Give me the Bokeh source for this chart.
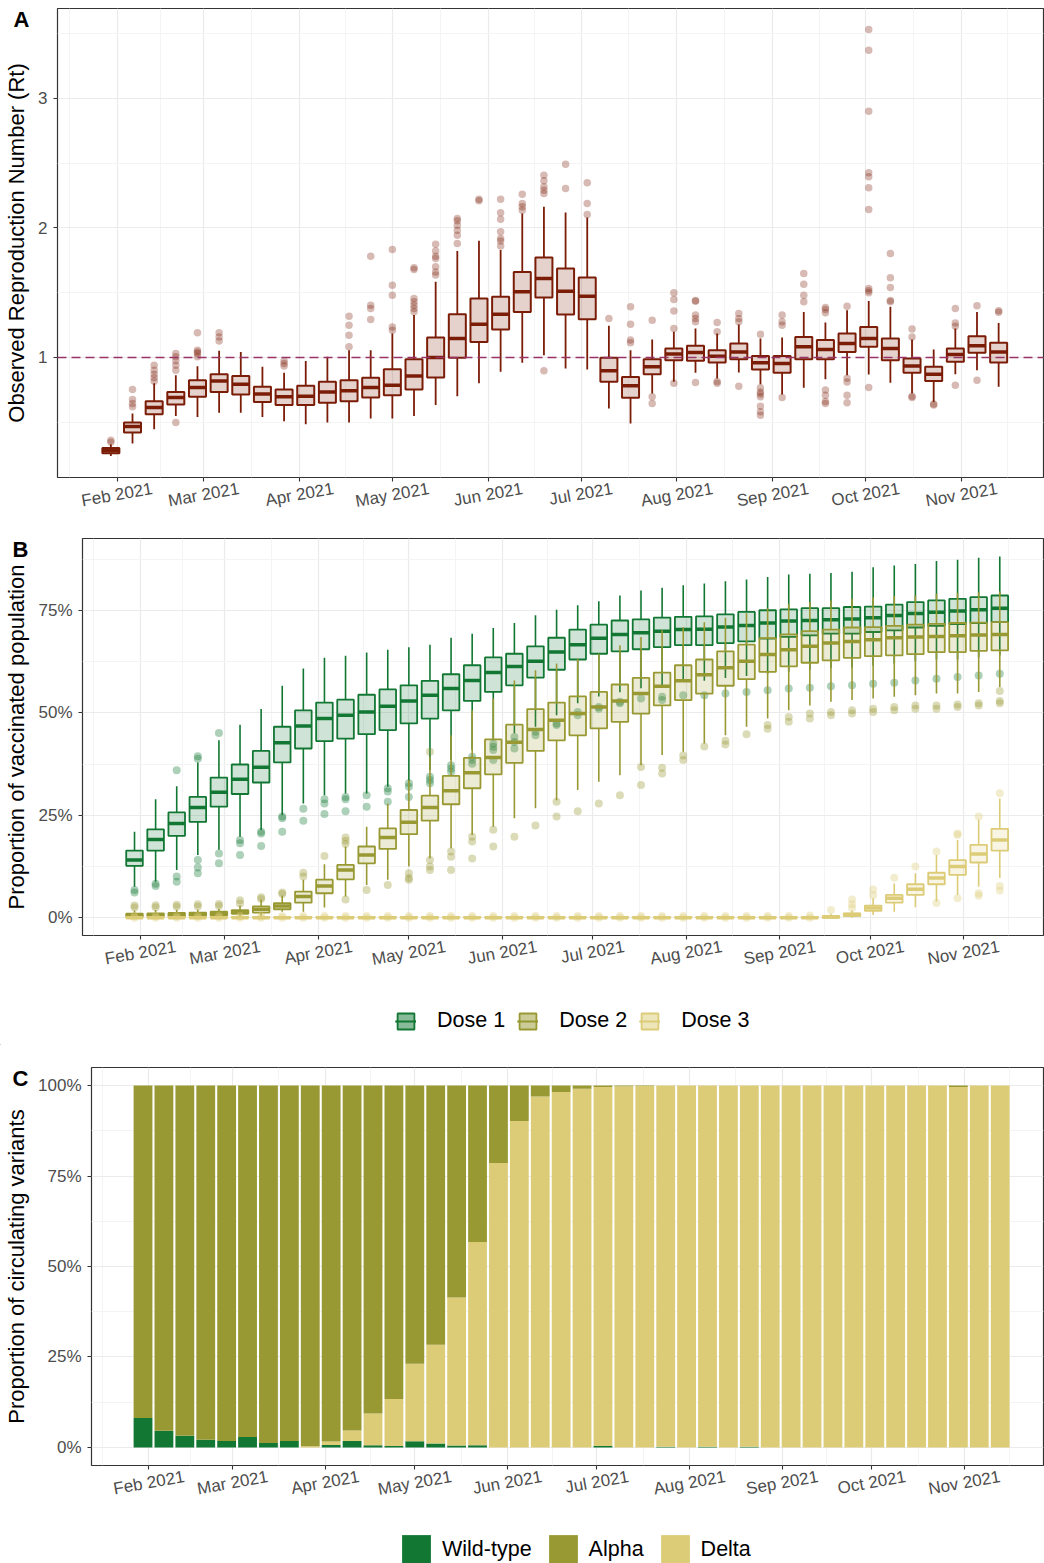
import math
import numpy as np
import pandas as pd
from bokeh.plotting import figure
from bokeh.models import (FixedTicker, CustomJSTickFormatter, PrintfTickFormatter, Span,
                          ColumnDataSource, Legend, LegendItem, Range1d, DatetimeAxis)
from bokeh.layouts import column
from bokeh.embed import file_html
from bokeh.resources import INLINE

# ---------------------------------------------------------------- data
week_start = "2021-01-30"
n_weeks = 42
month_ticks = ["2021-02-01", "2021-03-01", "2021-04-01", "2021-05-01", "2021-06-01",
               "2021-07-01", "2021-08-01", "2021-09-01", "2021-10-01", "2021-11-01"]
month_labels = ["Feb 2021", "Mar 2021", "Apr 2021", "May 2021", "Jun 2021",
                "Jul 2021", "Aug 2021", "Sep 2021", "Oct 2021", "Nov 2021"]

# Panel A: observed reproduction number (weekly boxplots)
rt_q1 = [0.26, 0.421, 0.562, 0.637, 0.696, 0.734, 0.714, 0.657, 0.632, 0.632, 0.65, 0.662, 0.691, 0.709,
         0.753, 0.846, 0.997, 1.12, 1.216, 1.352, 1.463, 1.332, 1.296, 0.812, 0.688, 0.871, 0.979, 0.974,
         0.961, 0.987, 0.907, 0.882, 0.987, 0.987, 1.043, 1.082, 0.979, 0.881, 0.819, 0.966, 1.036, 0.961]
rt_med = [0.28, 0.467, 0.614, 0.691, 0.768, 0.819, 0.794, 0.717, 0.696, 0.701, 0.734, 0.742, 0.768, 0.786,
          0.856, 1.0, 1.147, 1.257, 1.334, 1.507, 1.61, 1.512, 1.473, 0.897, 0.781, 0.928, 1.026, 1.039,
          1.01, 1.043, 0.959, 0.954, 1.082, 1.062, 1.108, 1.147, 1.069, 0.935, 0.871, 1.023, 1.09, 1.043]
rt_q3 = [0.30, 0.498, 0.662, 0.734, 0.825, 0.871, 0.856, 0.773, 0.753, 0.781, 0.812, 0.825, 0.843, 0.909,
         0.987, 1.154, 1.334, 1.456, 1.468, 1.661, 1.772, 1.687, 1.618, 0.997, 0.85, 0.987, 1.069, 1.09,
         1.056, 1.108, 1.012, 1.012, 1.159, 1.134, 1.185, 1.236, 1.147, 0.992, 0.928, 1.069, 1.164, 1.113]
rt_lo = [0.24, 0.336, 0.446, 0.547, 0.541, 0.573, 0.573, 0.541, 0.508, 0.485, 0.498, 0.498, 0.529, 0.529,
         0.547, 0.632, 0.701, 0.80, 0.889, 0.959, 1.018, 0.915, 0.907, 0.606, 0.49, 0.722, 0.812, 0.882,
         0.838, 0.884, 0.794, 0.714, 0.766, 0.832, 0.863, 0.869, 0.804, 0.722, 0.657, 0.871, 0.902, 0.773]
rt_hi = [0.33, 0.567, 0.80, 0.863, 0.933, 1.051, 1.043, 0.928, 0.882, 0.972, 1.005, 1.056, 1.056, 1.185,
         1.327, 1.584, 1.823, 1.901, 1.829, 2.112, 2.163, 2.12, 2.081, 1.244, 1.056, 1.139, 1.198, 1.224,
         1.185, 1.254, 1.147, 1.154, 1.352, 1.27, 1.365, 1.437, 1.391, 1.139, 1.062, 1.224, 1.352, 1.267]
rt_out = [[0.345, 0.36], [0.619, 0.645, 0.676, 0.753], [0.817, 0.843, 0.871, 0.902, 0.94],
          [0.498, 0.902, 0.94, 0.974, 1.005, 1.031], [1.005, 1.031, 1.043, 1.056, 1.19],
          [1.128, 1.159, 1.19], [], [], [0.935, 0.954, 0.974], [], [],
          [1.082, 1.172, 1.249, 1.319], [1.293, 1.378, 1.404, 1.782], [1.211, 1.236, 1.481, 1.558, 1.834],
          [1.353, 1.378, 1.404, 1.43, 1.456, 1.68, 1.692], [1.636, 1.661, 1.70, 1.764, 1.782, 1.823, 1.875],
          [1.88, 1.944, 1.983, 2.022, 2.055, 2.073], [2.21, 2.222],
          [1.86, 1.90, 1.919, 1.97, 2.068, 2.117, 2.222], [2.137, 2.163, 2.189, 2.261],
          [0.897, 2.267, 2.292, 2.318, 2.364, 2.408], [2.305, 2.493], [2.104, 2.189, 2.349], [1.301],
          [1.113, 1.134, 1.257, 1.391], [0.645, 0.696, 1.288], [0.80, 1.224, 1.358, 1.448, 1.499],
          [0.807, 1.275, 1.301, 1.327, 1.435, 1.44], [0.80, 0.815, 1.198, 1.27], [0.778, 1.275, 1.301, 1.34],
          [0.554, 0.58, 0.624, 0.696, 0.717, 0.734, 0.766, 1.18], [0.69, 1.249, 1.275, 1.327],
          [1.43, 1.481, 1.566, 1.649], [0.645, 0.66, 0.709, 0.748, 1.345, 1.37, 1.386],
          [0.65, 0.709, 0.81, 0.84, 1.396],
          [0.768, 1.499, 1.515, 1.533, 2.143, 2.31, 2.395, 2.426, 2.902, 3.373, 3.533],
          [1.43, 1.44, 1.54, 1.615, 1.803], [0.69, 0.70, 1.159, 1.219], [0.632, 0.64],
          [0.786, 1.242, 1.267, 1.378], [0.825, 1.399], [1.35, 1.36]]

# Panel B: proportion vaccinated (%), three doses
d1_q1 = [12.7, 16.4, 20.0, 23.4, 27.1, 30.2, 33.0, 37.9, 41.3, 43.1, 43.7, 44.8, 45.8, 47.4, 48.6, 50.6, 52.9,
         55.1, 56.7, 58.6, 60.5, 63.0, 64.4, 65.0, 65.5, 66.0, 66.5, 66.5, 67.0, 67.4, 68.1, 68.5, 68.9, 69.3,
         69.3, 69.7, 70.1, 70.8, 71.2, 71.6, 71.9, 72.1]
d1_med = [14.1, 19.1, 23.0, 26.9, 30.6, 33.8, 36.7, 42.7, 46.8, 48.6, 49.4, 50.2, 51.6, 52.9, 54.3, 55.9, 57.9,
          59.8, 61.3, 62.6, 64.8, 66.6, 68.2, 69.1, 69.5, 69.9, 70.3, 70.4, 70.9, 71.3, 71.9, 72.4, 72.5, 72.7,
          72.9, 73.2, 73.7, 74.2, 74.5, 74.8, 75.1, 75.5]
d1_q3 = [16.4, 21.6, 25.7, 29.5, 34.2, 37.4, 40.7, 46.6, 50.6, 52.5, 53.2, 54.4, 55.7, 56.7, 57.8, 59.4, 61.6,
         63.5, 64.4, 66.2, 68.3, 70.3, 71.5, 72.5, 72.8, 73.2, 73.4, 73.5, 74.0, 74.6, 75.0, 75.2, 75.5, 75.5,
         75.8, 75.9, 76.4, 77.0, 77.4, 77.8, 78.2, 78.6]
d1_lo = [7.6, 8.8, 11.7, 15.3, 16.6, 19.8, 21.4, 25.1, 27.9, 29.9, 30.3, 30.3, 32.0, 33.2, 36.0, 38.5, 41.0,
         43.3, 45.0, 46.6, 49.4, 52.3, 54.0, 55.0, 56.0, 56.7, 57.5, 57.8, 58.5, 59.0, 59.5, 60.0, 60.5, 61.0,
         61.0, 61.5, 62.0, 62.5, 63.0, 63.0, 63.5, 64.0]
d1_hi = [21.0, 28.9, 32.1, 37.9, 43.3, 47.1, 50.9, 56.6, 60.8, 63.4, 63.9, 64.7, 65.4, 66.0, 66.6, 68.3, 69.3,
         70.7, 71.9, 73.8, 75.1, 76.2, 77.2, 78.6, 79.8, 80.5, 81.1, 81.5, 82.1, 82.5, 83.1, 83.7, 83.9, 84.1,
         84.4, 85.5, 85.9, 86.3, 87.0, 87.3, 87.8, 88.1]
d1_out = [[6.2, 6.8], [7.8, 8.3], [8.8, 10.1, 36.0], [10.9, 12.3, 14.1, 38.8, 39.4], [13.3, 15.7, 45.1],
          [15.3, 18.2, 19.0], [17.5, 20.6, 21.0], [21.0, 24.3, 24.7], [23.7, 26.6], [25.3, 27.9, 28.9],
          [26.0, 28.9, 29.5], [27.1, 29.9], [28.3, 30.8, 31.6], [29.5, 32.0, 32.8], [32.8, 33.6, 34.4],
          [35.6, 36.4, 37.2], [37.6, 38.5, 39.3], [38.5, 40.9, 41.7, 42.5], [41.3, 42.9, 44.1], [44.5, 45.4],
          [47.0, 47.4], [49.4, 50.2], [51.0, 51.4], [52.3, 52.7], [53.5], [53.1, 53.9], [54.3], [54.3],
          [54.7], [55.1], [55.5], [55.9], [56.1], [56.5], [56.7], [57.1], [57.3], [57.9], [58.3], [58.7],
          [59.1], [59.5]]

d2_q1 = [0.3, 0.4, 0.4, 0.5, 0.6, 1.0, 1.3, 2.1, 3.7, 6.0, 9.4, 13.3, 16.8, 20.4, 23.7, 27.7, 31.6, 35.0, 37.8,
         40.7, 43.3, 44.5, 46.2, 47.8, 49.8, 51.8, 53.1, 54.7, 56.6, 58.2, 60.0, 61.3, 62.2, 62.8, 63.4, 63.8,
         64.0, 64.3, 64.8, 64.8, 65.1, 65.2]
d2_med = [0.6, 0.7, 0.8, 0.9, 1.0, 1.4, 2.1, 2.9, 5.2, 7.8, 11.7, 15.3, 19.6, 23.3, 26.9, 31.0, 35.4, 39.1, 42.8,
          45.9, 48.2, 49.8, 51.4, 52.9, 54.7, 56.5, 57.8, 59.3, 61.0, 62.6, 64.2, 65.4, 66.2, 67.0, 67.4, 67.8,
          68.3, 68.5, 68.6, 68.8, 69.0, 69.1]
d2_q3 = [1.0, 1.1, 1.2, 1.3, 1.5, 1.9, 2.8, 3.6, 6.4, 9.3, 12.9, 17.4, 21.8, 26.3, 29.8, 34.6, 39.0, 43.5, 47.1,
         50.9, 52.5, 54.0, 55.1, 56.9, 58.5, 59.8, 61.6, 63.0, 65.0, 66.6, 68.2, 69.1, 69.9, 70.3, 70.8, 70.9,
         71.2, 71.5, 71.7, 71.9, 72.0, 72.1]
d2_lo = [0.0, 0.0, 0.0, 0.0, 0.1, 0.2, 0.3, 1.5, 1.5, 2.5, 5.2, 8.0, 9.3, 12.5, 14.5, 17.0, 20.2, 22.2, 24.3,
         26.7, 28.7, 31.2, 33.2, 34.8, 37.2, 39.7, 40.5, 42.5, 44.5, 46.6, 48.6, 50.6, 51.8, 52.7, 53.1, 53.5,
         53.9, 54.3, 54.7, 54.7, 55.1, 56.3]
d2_hi = [1.8, 1.9, 2.0, 2.0, 2.2, 3.0, 4.4, 5.4, 9.3, 13.1, 17.4, 22.2, 27.9, 33.6, 39.3, 44.5, 50.6, 53.5, 57.9,
         60.4, 62.0, 63.2, 64.4, 66.5, 68.5, 70.1, 70.9, 72.1, 73.2, 74.3, 75.5, 76.6, 77.0, 77.4, 77.8, 78.2,
         78.5, 78.6, 79.0, 79.3, 79.4, 79.6]
d2_out = [[2.5, 3.0], [2.6, 3.1], [2.7, 3.2], [2.8, 3.3], [2.9, 3.4], [3.5, 4.3], [4.6, 5.0], [5.8, 6.2],
          [10.1, 11.0], [15.1], [4.5, 18.0, 18.8, 19.6], [6.8], [8.0], [9.3, 9.7, 10.9],
          [11.7, 12.5, 14.1, 40.5], [11.7, 14.9, 16.2], [14.5, 18.6, 19.8], [17.4, 21.5], [19.8], [22.5],
          [24.7, 28.3], [26.0], [27.9], [29.9], [32.4, 36.8], [35.2, 36.6], [38.5, 39.6], [41.8],
          [42.3, 43.2], [44.8], [46.1, 47.0], [47.8, 49.0], [48.6, 49.8], [49.4, 50.2], [49.8, 50.6],
          [50.2, 51.0], [50.6, 51.4], [51.0, 51.8], [51.0, 51.8], [51.4, 52.0], [51.8, 52.3], [52.3, 52.9, 55.3]]

d3_q1 = [0.0, 0.0, 0.0, 0.0, 0.0, 0.0, 0.0, 0.0, 0.0, 0.0, 0.0, 0.0, 0.0, 0.0, 0.0, 0.0, 0.0, 0.0, 0.0, 0.0,
         0.0, 0.0, 0.0, 0.0, 0.0, 0.0, 0.0, 0.0, 0.0, 0.0, 0.0, 0.0, 0.0, 0.0, 0.4, 1.7, 3.7, 5.6, 8.2, 10.5,
         13.5, 16.4]
d3_med = [0.05, 0.05, 0.05, 0.05, 0.05, 0.05, 0.05, 0.05, 0.05, 0.05, 0.05, 0.05, 0.05, 0.05, 0.05, 0.05, 0.05,
          0.05, 0.05, 0.05, 0.05, 0.05, 0.05, 0.05, 0.05, 0.05, 0.05, 0.05, 0.05, 0.05, 0.05, 0.05, 0.05, 0.2,
          0.8, 2.4, 4.8, 7.0, 9.7, 12.5, 15.6, 19.0]
d3_q3 = [0.25, 0.25, 0.25, 0.25, 0.25, 0.25, 0.25, 0.25, 0.25, 0.25, 0.25, 0.25, 0.25, 0.25, 0.25, 0.25, 0.25,
         0.25, 0.25, 0.25, 0.25, 0.25, 0.25, 0.25, 0.25, 0.25, 0.25, 0.25, 0.25, 0.25, 0.25, 0.25, 0.25, 0.5,
         1.1, 3.0, 5.6, 8.2, 11.0, 14.1, 17.8, 21.7]
d3_lo = [0.0, 0.0, 0.0, 0.0, 0.0, 0.0, 0.0, 0.0, 0.0, 0.0, 0.0, 0.0, 0.0, 0.0, 0.0, 0.0, 0.0, 0.0, 0.0, 0.0,
         0.0, 0.0, 0.0, 0.0, 0.0, 0.0, 0.0, 0.0, 0.0, 0.0, 0.0, 0.0, 0.0, 0.0, 0.0, 0.7, 1.5, 2.6, 4.0, 5.6,
         7.6, 9.7]
d3_hi = [0.3, 0.3, 0.3, 0.3, 0.3, 0.3, 0.3, 0.3, 0.3, 0.3, 0.3, 0.3, 0.3, 0.3, 0.3, 0.3, 0.3, 0.3, 0.3, 0.3,
         0.3, 0.3, 0.3, 0.3, 0.3, 0.3, 0.3, 0.3, 0.3, 0.3, 0.3, 0.3, 0.3, 1.0, 1.8, 4.8, 8.4, 10.9, 15.3, 19.0,
         23.9, 29.1]
d3_out = [[0.0, 0.45], [0.0, 0.45], [0.0, 0.45], [0.0, 0.45], [0.0, 0.45], [0.0, 0.45], [0.0, 0.45],
          [0.0, 0.45], [0.0, 0.45], [0.0, 0.45], [0.0, 0.45], [0.0, 0.45], [0.0, 0.45], [0.0, 0.45],
          [0.0, 0.45], [0.0, 0.45], [0.0, 0.45], [0.0, 0.45], [0.0, 0.45], [0.0, 0.45], [0.0, 0.45],
          [0.0, 0.45], [0.0, 0.45], [0.0, 0.45], [0.0, 0.45], [0.0, 0.45], [0.0, 0.45], [0.0, 0.45],
          [0.0, 0.45], [0.0, 0.45], [0.0, 0.45], [0.0, 0.45], [0.0, 0.6], [1.9], [2.4, 3.3, 4.5], [5.5, 6.9],
          [9.8], [12.5], [3.6, 16.2], [4.8, 20.2, 20.6], [5.4, 6.0, 24.7], [6.7, 7.8, 30.4]]

dose_names = ["Dose 1", "Dose 2", "Dose 3"]

# Panel C: proportion of circulating variants (%)
wild_type = [8.1, 4.6, 3.2, 2.1, 1.8, 2.9, 1.2, 1.8, 0.0, 0.7, 1.8, 0.6, 0.4, 1.7, 1.1, 0.5, 0.6, 0.0, 0.0, 0.0,
             0.0, 0.0, 0.4, 0.0, 0.0, 0.2, 0.0, 0.2, 0.0, 0.2, 0.0, 0.0, 0.0, 0.0, 0.0, 0.0, 0.0, 0.0, 0.0, 0.0,
             0.0, 0.0]
delta = [0.0, 0.0, 0.0, 0.0, 0.0, 0.0, 0.0, 0.0, 0.3, 0.9, 2.9, 8.8, 13.0, 21.4, 27.3, 40.9, 56.2, 78.6, 90.2,
         97.0, 98.2, 99.1, 99.2, 99.8, 99.9, 99.8, 100.0, 99.8, 100.0, 99.8, 100.0, 100.0, 100.0, 100.0, 100.0,
         100.0, 100.0, 100.0, 100.0, 99.6, 100.0, 100.0]
alpha = [91.9, 95.4, 96.8, 97.9, 98.2, 97.1, 98.8, 98.2, 99.7, 98.4, 95.3, 90.6, 86.6, 76.9, 71.6, 58.6, 43.2,
         21.4, 9.8, 3.0, 1.8, 0.9, 0.4, 0.2, 0.1, 0.0, 0.0, 0.0, 0.0, 0.0, 0.0, 0.0, 0.0, 0.0, 0.0, 0.0, 0.0,
         0.0, 0.0, 0.4, 0.0, 0.0]
variant_names = ["Wild-type", "Alpha", "Delta"]

# ---------------------------------------------------------------- styling
FONT = "Liberation Sans"
RT_COL = "#7B1C07"
SPAN_COL = "#993366"
DOSE_COLS = ["#117733", "#999933", "#DDCC77"]
DOSE_KEY_FILLS = ["#88BB99", "#CCCC99", "#EEE6BB"]
VAR_COLS = {"Wild-type": "#117733", "Alpha": "#999933", "Delta": "#DDCC77"}
GRID = "#EBEBEB"
GRID_MINOR = "#F4F4F4"
TICK_TXT = "#4D4D4D"
W = 1044
TICK_FS = 17
LABEL_ANGLE = math.radians(10)
DAY = 86400000.0
EPOCH = pd.Timestamp("1970-01-01")
# approximate advance widths (em) of Liberation Sans, used to centre rotated month labels
CHAR_EM = {"F": 0.611, "e": 0.556, "b": 0.556, " ": 0.278, "M": 0.833, "a": 0.556, "r": 0.333,
           "A": 0.667, "p": 0.556, "y": 0.5, "J": 0.5, "u": 0.556, "n": 0.556, "l": 0.222, "g": 0.556,
           "S": 0.667, "O": 0.778, "c": 0.5, "t": 0.278, "N": 0.722, "o": 0.556, "v": 0.5}


def to_ms(idx):
    return ((pd.DatetimeIndex(idx) - EPOCH) / pd.Timedelta(milliseconds=1)).to_numpy(dtype=float)


weeks = to_ms(pd.date_range(week_start, periods=n_weeks, freq="7D"))
major_ms = to_ms(month_ticks)
all_months = to_ms(pd.date_range("2021-01-01", "2021-12-01", freq="MS"))
minor_ms = (all_months[:-1] + all_months[1:]) / 2.0
X_START = to_ms(["2021-01-12 18:00"])[0]
X_END = to_ms(["2021-11-27 12:00"])[0]


def text_px(s, fs):
    return sum(CHAR_EM.get(ch, 0.556) for ch in s) * fs


def make_panel(height, top, bottom, left, yr, yticks, yminor, ylab, letter, letter_off, yfmt=None):
    p = figure(width=W, height=height, x_axis_type="datetime",
               x_range=Range1d(X_START, X_END), y_range=Range1d(*yr),
               output_backend="svg", toolbar_location=None, frame_align=False,
               min_border_left=left, min_border_right=1, min_border_top=top, min_border_bottom=bottom)
    p.background_fill_color = "white"
    p.border_fill_color = "white"
    p.outline_line_color = "#333333"
    p.outline_line_width = 1.2
    # panel letter as the plot title, pulled beside the frame's top-left corner
    p.title.text = "\n" + letter
    p.title.align = "left"
    p.title.offset = letter_off
    p.title.standoff = -46
    p.title.vertical_align = "bottom"
    p.title.text_font = FONT
    p.title.text_font_size = "22px"
    p.title.text_font_style = "bold"
    p.title.text_color = "black"
    p.title.text_line_height = 1.0
    # x axis: tick marks only
    xa = p.xaxis[0]
    xa.ticker = FixedTicker(ticks=list(major_ms), minor_ticks=list(minor_ms))
    xa.formatter = CustomJSTickFormatter(code="return ''")
    xa.axis_line_color = None
    xa.major_tick_line_color = "#333333"
    xa.major_tick_line_width = 1.1
    xa.major_tick_out = 4
    xa.major_tick_in = 0
    xa.minor_tick_line_color = None
    xa.major_label_standoff = 0
    # second x axis carrying the rotated month labels (ticks shifted so text is centred)
    frame_w = W - left - 1
    ms_per_px = (X_END - X_START) / frame_w
    shifted = [float(m + text_px(s, TICK_FS) / 2.0 * math.cos(LABEL_ANGLE) * ms_per_px)
               for m, s in zip(major_ms, month_labels)]
    lab_ax = DatetimeAxis(ticker=FixedTicker(ticks=shifted, minor_ticks=[]),
                          formatter=CustomJSTickFormatter(
                              args=dict(labels=month_labels, pos=shifted),
                              code="let b = 0; for (let j = 0; j < pos.length; j++) {"
                                   " if (Math.abs(pos[j] - tick) < Math.abs(pos[b] - tick)) b = j; }"
                                   " return labels[b];"))
    lab_ax.axis_line_color = None
    lab_ax.major_tick_line_color = None
    lab_ax.minor_tick_line_color = None
    lab_ax.major_tick_out = 0
    lab_ax.major_tick_in = 0
    lab_ax.minor_tick_out = 0
    lab_ax.major_label_standoff = 7
    lab_ax.major_label_orientation = LABEL_ANGLE
    lab_ax.major_label_text_font = FONT
    lab_ax.major_label_text_font_size = f"{TICK_FS}px"
    lab_ax.major_label_text_color = TICK_TXT
    p.add_layout(lab_ax, "below")
    # y axis
    ya = p.yaxis[0]
    ya.ticker = FixedTicker(ticks=yticks, minor_ticks=yminor)
    if yfmt is not None:
        ya.formatter = yfmt
    ya.axis_line_color = None
    ya.major_tick_line_color = "#333333"
    ya.major_tick_line_width = 1.1
    ya.major_tick_out = 4
    ya.major_tick_in = 0
    ya.minor_tick_line_color = None
    ya.major_label_standoff = 6
    ya.major_label_text_font = FONT
    ya.major_label_text_font_size = f"{TICK_FS}px"
    ya.major_label_text_color = TICK_TXT
    ya.axis_label = ylab
    ya.axis_label_text_font = FONT
    ya.axis_label_text_font_size = "22px"
    ya.axis_label_text_font_style = "normal"
    ya.axis_label_text_color = "black"
    ya.axis_label_standoff = 6
    for g in (p.xgrid[0], p.ygrid[0]):
        g.grid_line_color = GRID
        g.grid_line_width = 1.2
        g.minor_grid_line_color = GRID_MINOR
        g.minor_grid_line_width = 1
    return p


def draw_boxes(p, q1, med, q3, lo, hi, outs, color, fill_alpha, lw, mw, ww, out_alpha, out_size):
    half = 2.75 * DAY
    src = ColumnDataSource(dict(x=weeks, q1=q1, med=med, q3=q3, lo=lo, hi=hi,
                                x0=weeks - half, x1=weeks + half))
    ox, oy = [], []
    for w, o in zip(weeks, outs):
        ox += [w] * len(o)
        oy += list(o)
    p.scatter(x=ox, y=oy, size=out_size, fill_color=color, fill_alpha=out_alpha, line_color=None)
    p.segment(x0="x", y0="q3", x1="x", y1="hi", source=src, line_color=color, line_width=ww)
    p.segment(x0="x", y0="lo", x1="x", y1="q1", source=src, line_color=color, line_width=ww)
    p.vbar(x="x", width=2 * half, bottom="q1", top="q3", source=src, fill_color=color,
           fill_alpha=fill_alpha, line_color=color, line_width=lw)
    p.segment(x0="x0", y0="med", x1="x1", y1="med", source=src, line_color=color, line_width=mw)


def legend_strip(height):
    p = figure(width=W, height=height, x_range=Range1d(0, 1), y_range=Range1d(0, 1),
               x_axis_location=None, y_axis_location=None, output_backend="svg", toolbar_location=None,
               frame_align=False, min_border_left=0, min_border_right=0, min_border_top=0, min_border_bottom=0)
    p.outline_line_color = None
    p.background_fill_color = "white"
    p.border_fill_color = "white"
    p.xgrid.visible = False
    p.ygrid.visible = False
    return p


# ---------------------------------------------------------------- panel A
pA = make_panel(526, 8, 49, 57, (0.073, 3.695), [1, 2, 3], [0.5, 1.5, 2.5, 3.5],
                "Observed Reproduction Number (Rt)", "A", -44)
draw_boxes(pA, rt_q1, rt_med, rt_q3, rt_lo, rt_hi, rt_out, RT_COL, 0.2, 2, 3.5, 1.8, 0.3, 7.5)
pA.add_layout(Span(location=1, dimension="width", line_color=SPAN_COL, line_width=1.6, line_dash="9 5"))

# ---------------------------------------------------------------- panel B
pB = make_panel(458, 12, 49, 82, (-4.3, 92.5), [0, 25, 50, 75], [12.5, 37.5, 62.5, 87.5],
                "Proportion of vaccinated population", "B", -70,
                yfmt=PrintfTickFormatter(format="%d%%"))
dose_data = [(d1_q1, d1_med, d1_q3, d1_lo, d1_hi, d1_out),
             (d2_q1, d2_med, d2_q3, d2_lo, d2_hi, d2_out),
             (d3_q1, d3_med, d3_q3, d3_lo, d3_hi, d3_out)]
for (q1, md, q3, lo, hi, out), col in zip(dose_data, DOSE_COLS):
    draw_boxes(pB, q1, md, q3, lo, hi, out, col, 0.2, 1.8, 3.5, 1.6, 0.35, 8)

legB = legend_strip(61)
itemsB = []
for name, col, kf in zip(dose_names, DOSE_COLS, DOSE_KEY_FILLS):
    rw = legB.vspan(x=[-5], line_color=col, line_width=1.6)
    rb = legB.vbar(x=[-5], width=0.1, bottom=[-6], top=[-5], fill_color=kf, line_color=col, line_width=1.8)
    rm = legB.segment(x0=[-5], y0=[-5], x1=[-4], y1=[-5], line_color=col, line_width=2)
    itemsB.append(LegendItem(label=name, renderers=[rw, rb, rm]))
legendB = Legend(items=itemsB, orientation="horizontal", location=(395, 12), border_line_color=None,
                 background_fill_alpha=0, padding=0, margin=0, spacing=12, label_standoff=21,
                 glyph_width=21, glyph_height=20, label_text_font=FONT, label_text_font_size="21.5px",
                 label_text_color="black")
legB.add_layout(legendB, "center")

# ---------------------------------------------------------------- panel C
pC = make_panel(468, 22, 48, 91, (-5.0, 105.0), [0, 25, 50, 75, 100], [12.5, 37.5, 62.5, 87.5],
                "Proportion of circulating variants", "C", -79,
                yfmt=PrintfTickFormatter(format="%d%%"))
srcC = ColumnDataSource(dict(x=weeks, wt=wild_type, delta=delta, alpha=alpha))
pC.vbar_stack(["wt", "delta", "alpha"], x="x", width=6.3 * DAY, source=srcC,
              fill_color=[VAR_COLS["Wild-type"], VAR_COLS["Delta"], VAR_COLS["Alpha"]], line_color=None)

legC = legend_strip(50)
itemsC = []
for name in variant_names:
    r = legC.vbar(x=[-5], width=0.1, bottom=[-6], top=[-5], fill_color=VAR_COLS[name], line_color=None)
    itemsC.append(LegendItem(label=name, renderers=[r]))
legendC = Legend(items=itemsC, orientation="horizontal", location=(398, -4), border_line_color=None,
                 background_fill_alpha=0, padding=0, margin=0, spacing=13, label_standoff=8,
                 glyph_width=36, glyph_height=36, label_text_font=FONT, label_text_font_size="21.5px",
                 label_text_color="black")
legC.add_layout(legendC, "center")

layout = column(pA, pB, legB, pC, legC, spacing=0)
open("out.html", "w").write(file_html(layout, INLINE))
